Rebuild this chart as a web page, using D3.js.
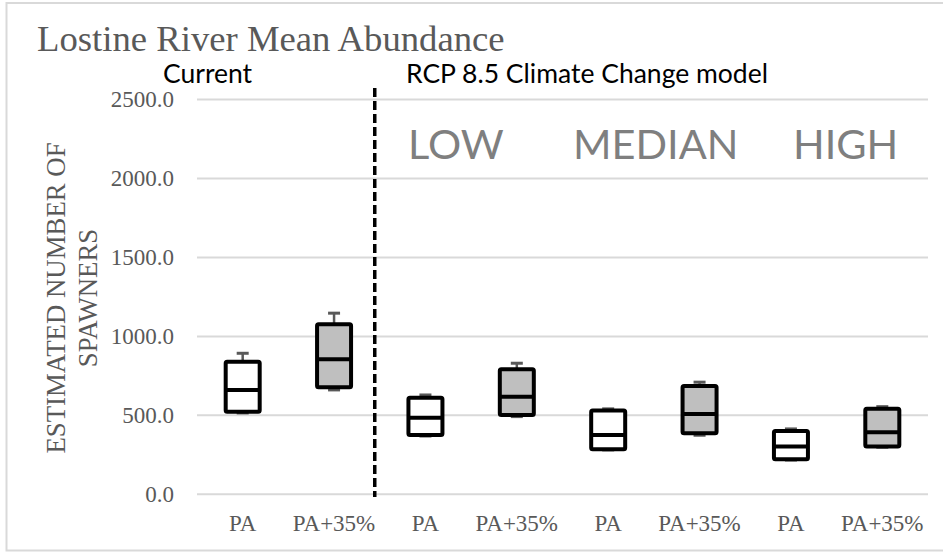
<!DOCTYPE html>
<html><head><meta charset="utf-8">
<script src="https://cdn.jsdelivr.net/npm/d3@7"></script>
<style>body{margin:0;background:#fff;}svg{display:block;}</style>
</head><body>
<svg id="chart" width="943" height="552"></svg>
<script>
// Data
const categories = ["PA","PA+35%","PA","PA+35%","PA","PA+35%","PA","PA+35%"];
const groups = ["Current","Current","LOW","LOW","MEDIAN","MEDIAN","HIGH","HIGH"];
const whiskerLow = [515, 661, 369, 492, 281, 374, 217, 298];
const q1 =         [523, 678, 376, 502, 285, 387, 222, 302];
const medians =    [661, 855, 485, 618, 376, 509, 302, 393];
const q3 =         [840, 1077, 612, 792, 530, 686, 401, 541];
const whiskerHigh= [893, 1147, 629, 830, 541, 710, 414, 555];
const filled =     [false,true,false,true,false,true,false,true];
const yTicks = [0, 500, 1000, 1500, 2000, 2500];
const scenarioLabels = ["LOW","MEDIAN","HIGH"];

// layout
const scenarioX = [408, 573, 793];

const svg = d3.select("#chart");
const serif = "'Liberation Serif','Times New Roman',serif";
const sans = "Lato,'Open Sans',sans-serif";

// frame
svg.append("path").attr("d","M943,3 H6.5 V550.5 H943").attr("fill","none").attr("stroke","#d9d9d9").attr("stroke-width",2);

const x = d3.scaleBand().domain(d3.range(categories.length)).range([197, 928]).padding(0);
const y = d3.scaleLinear().domain([0, 2500]).range([494.3, 99.5]);

// gridlines
svg.append("g").selectAll("line").data(yTicks).join("line")
  .attr("x1", 197).attr("x2", 928)
  .attr("y1", d => y(d)).attr("y2", d => y(d))
  .attr("stroke", "#d9d9d9").attr("stroke-width", 2);

// y axis labels
const yAxis = d3.axisLeft(y).tickValues(yTicks).tickFormat(d3.format(".1f")).tickSize(0).tickPadding(0);
const gy = svg.append("g").attr("transform","translate(174,0)").call(yAxis);
gy.select(".domain").remove();
gy.selectAll("text").attr("font-family", serif).attr("font-size", 23).attr("fill", "#595959");

// x axis labels
const xAxis = d3.axisBottom(x).tickFormat(i => categories[i]).tickSize(0).tickPadding(0);
const gx = svg.append("g").attr("transform","translate(0,514)").call(xAxis);
gx.select(".domain").remove();
gx.selectAll("text").attr("font-family", serif).attr("font-size", 23).attr("fill", "#595959").attr("dy","0.75em");

// dashed divider
svg.append("line").attr("x1", x(2) - 5).attr("x2", x(2) - 5).attr("y1", 88).attr("y2", 497)
  .attr("stroke", "#000").attr("stroke-width", 3.5).attr("stroke-dasharray", "9,4");

// boxes
const bw = 34;
const boxes = svg.append("g").selectAll("g").data(d3.range(categories.length)).join("g");
boxes.each(function(i){
  const g = d3.select(this);
  const cx = x(i) + x.bandwidth()/2;
  g.append("line").attr("x1", cx).attr("x2", cx).attr("y1", y(whiskerHigh[i])).attr("y2", y(q3[i]))
    .attr("stroke","#595959").attr("stroke-width",2.5);
  g.append("line").attr("x1", cx-6).attr("x2", cx+6).attr("y1", y(whiskerHigh[i])).attr("y2", y(whiskerHigh[i]))
    .attr("stroke","#595959").attr("stroke-width",3);
  g.append("line").attr("x1", cx).attr("x2", cx).attr("y1", y(whiskerLow[i])).attr("y2", y(q1[i]))
    .attr("stroke","#595959").attr("stroke-width",2.5);
  g.append("line").attr("x1", cx-6).attr("x2", cx+6).attr("y1", y(whiskerLow[i])).attr("y2", y(whiskerLow[i]))
    .attr("stroke","#595959").attr("stroke-width",3);
  g.append("rect").attr("x", cx - bw/2).attr("width", bw)
    .attr("y", y(q3[i])).attr("height", y(q1[i]) - y(q3[i]))
    .attr("fill", filled[i] ? "#bfbfbf" : "#ffffff")
    .attr("stroke","#000").attr("stroke-width",4).attr("rx",1.5);
  g.append("line").attr("x1", cx - bw/2).attr("x2", cx + bw/2).attr("y1", y(medians[i])).attr("y2", y(medians[i]))
    .attr("stroke","#000").attr("stroke-width",4);
});

// title
svg.append("text").attr("x", 37).attr("y", 51).text("Lostine River Mean Abundance")
  .attr("font-family", serif).attr("font-size", 36.7).attr("fill", "#595959");

// section headers
svg.append("text").attr("x", 163).attr("y", 83).text("Current")
  .attr("font-family", sans).attr("font-size", 26.5).attr("fill", "#000");
svg.append("text").attr("x", 406).attr("y", 83).text("RCP 8.5 Climate Change model")
  .attr("font-family", sans).attr("font-size", 26.5).attr("fill", "#000");

// scenario labels
svg.append("g").selectAll("text").data(scenarioLabels).join("text")
  .attr("x", (d,k) => scenarioX[k])
  .attr("y", 159).text(d => d)
  .attr("font-family", sans).attr("font-size", 41.5).attr("fill", "#7f7f7f");

// y axis title
svg.append("text").attr("transform","translate(65,298) rotate(-90)").attr("text-anchor","middle")
  .attr("font-family", serif).attr("font-size", 26.8).attr("fill", "#595959").text("ESTIMATED NUMBER OF");
svg.append("text").attr("transform","translate(97,298) rotate(-90)").attr("text-anchor","middle")
  .attr("font-family", serif).attr("font-size", 26.8).attr("fill", "#595959").text("SPAWNERS");
</script>
</body></html>
